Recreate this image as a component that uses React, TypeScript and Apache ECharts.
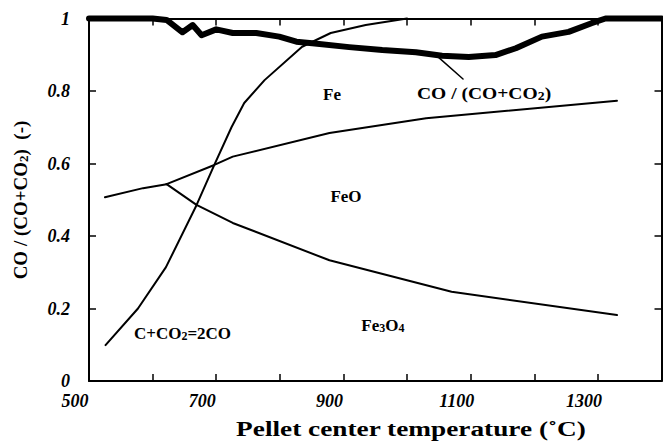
import React, { useEffect, useRef } from 'react';
import * as echarts from 'echarts';

// Axis ranges
const X_MIN = 500;
const X_MAX = 1400;
const X_STEP = 100;
const Y_MIN = 0;
const Y_MAX = 1;
const Y_STEP = 0.2;
const X_LABELS = [500, 700, 900, 1100, 1300];

// Measured gas ratio CO/(CO+CO2) (thick line)
const gasT = [500, 600, 622, 647, 663, 677, 700, 726, 763, 799, 826, 851, 909, 961, 1014, 1055, 1097, 1139, 1171, 1212, 1254, 1290, 1312, 1400];
const gasRatio = [1.0, 1.0, 0.996, 0.962, 0.982, 0.954, 0.97, 0.96, 0.96, 0.95, 0.936, 0.932, 0.921, 0.913, 0.907, 0.897, 0.894, 0.899, 0.918, 0.95, 0.963, 0.987, 1.0, 1.0];

// Boudouard equilibrium C+CO2=2CO
const boudT = [526, 577, 621, 669, 697, 724, 744, 776, 835, 880, 935, 1000];
const boudRatio = [0.099, 0.2, 0.314, 0.485, 0.596, 0.7, 0.767, 0.83, 0.922, 0.96, 0.982, 1.0];

// Fe3O4 / Fe boundary (below triple point)
const magFeT = [525, 585, 622];
const magFeRatio = [0.507, 0.532, 0.543];

// Fe / FeO boundary
const feFeoT = [622, 697, 726, 878, 1030, 1330];
const feFeoRatio = [0.543, 0.596, 0.619, 0.684, 0.725, 0.773];

// FeO / Fe3O4 boundary
const feoMagT = [622, 669, 726, 878, 1070, 1330];
const feoMagRatio = [0.543, 0.486, 0.436, 0.333, 0.246, 0.182];

// Leader line to the CO/(CO+CO2) label
const leaderT = [1050, 1088];
const leaderRatio = [0.892, 0.833];

// Annotations (data coordinates)
const labelTexts = ['Fe', 'CO / (CO+CO{s|2})', 'FeO', 'Fe{s|3}O{s|4}', 'C+CO{s|2}=2CO'];
const labelT = [882, 1121, 904, 962, 647];
const labelRatio = [0.789, 0.794, 0.508, 0.152, 0.13];

const X_TITLE = 'Pellet center temperature (˚C)';
const Y_TITLE = 'CO / (CO+CO{s|2})  (-)';

const FONT = "'Liberation Serif', 'Times New Roman', Times, serif";
const labelStretch = [1, 1.15, 1, 1, 1];

const pair = (xs: number[], ys: number[]) => xs.map((x, i) => [x, ys[i]]);

export default function App() {
  const ref = useRef<HTMLDivElement>(null);

  useEffect(() => {
    if (!ref.current) return;
    const chart = echarts.init(ref.current, null, { renderer: 'svg' });

    const lineSeries = (name: string, xs: number[], ys: number[], width: number) => ({
      type: 'line',
      name,
      data: pair(xs, ys),
      symbol: 'none',
      clip: false,
      silent: true,
      xAxisIndex: 0,
      yAxisIndex: 0,
      lineStyle: { color: '#000', width, join: 'round', cap: 'round' },
      z: 3,
    });

    const tickLabelStyle = {
      fontFamily: FONT,
      fontStyle: 'italic',
      fontWeight: 'bold',
      fontSize: 18,
      color: '#000',
    };
    const axisLine = { show: true, onZero: false, lineStyle: { color: '#000', width: 2 } };
    const axisTick = { show: true, inside: true, length: 7, lineStyle: { color: '#000', width: 1.5 } };

    const xAxisBase = {
      type: 'value',
      min: X_MIN,
      max: X_MAX,
      interval: X_STEP,
      axisLine,
      axisTick,
      splitLine: { show: false },
    };
    const yAxisBase = {
      type: 'value',
      min: Y_MIN,
      max: Y_MAX,
      interval: Y_STEP,
      axisLine,
      axisTick,
      splitLine: { show: false },
    };

    chart.setOption({
      animation: false,
      backgroundColor: '#fff',
      grid: { left: 89, right: 1.5, top: 18.5, bottom: 63, containLabel: false, outerBoundsMode: 'none' },
      xAxis: [
        {
          ...xAxisBase,
          position: 'bottom',
          axisLabel: {
            ...tickLabelStyle,
            showMinLabel: true,
            showMaxLabel: true,
            margin: 11,
            padding: [0, 28, 0, 0],
            formatter: (v: number) => (X_LABELS.indexOf(Math.round(v)) >= 0 ? String(Math.round(v)) : ''),
          },
        },
        { ...xAxisBase, position: 'top', axisLabel: { show: false } },
      ],
      yAxis: [
        {
          ...yAxisBase,
          position: 'left',
          axisLabel: {
            ...tickLabelStyle,
            margin: 19,
            align: 'right',
            showMinLabel: true,
            showMaxLabel: true,
            formatter: (v: number) => {
              if (Math.abs(v) < 1e-9) return '0';
              if (Math.abs(v - 1) < 1e-9) return '1';
              return v.toFixed(1);
            },
          },
        },
        { ...yAxisBase, position: 'right', axisLabel: { show: false } },
      ],
      series: [
        lineSeries('CO/(CO+CO2)', gasT, gasRatio, 6),
        lineSeries('C+CO2=2CO', boudT, boudRatio, 2),
        lineSeries('Fe3O4/Fe', magFeT, magFeRatio, 2),
        lineSeries('Fe/FeO', feFeoT, feFeoRatio, 2),
        lineSeries('FeO/Fe3O4', feoMagT, feoMagRatio, 2),
        lineSeries('leader', leaderT, leaderRatio, 1.5),
      ],
    });

    const sub = (size: number) => ({
      s: { fontSize: size, fontFamily: FONT, fontWeight: 'bold', fill: '#000', lineHeight: size, verticalAlign: 'bottom' },
    });

    const annotations = labelTexts.map((text, i) => {
      const p = chart.convertToPixel({ xAxisIndex: 0, yAxisIndex: 0 }, [labelT[i], labelRatio[i]]) as number[];
      return {
        type: 'text',
        x: p[0],
        y: p[1],
        scaleX: labelStretch[i],
        silent: true,
        z: 10,
        style: {
          text,
          rich: sub(12),
          fill: '#000',
          fontFamily: FONT,
          fontWeight: 'bold',
          fontSize: 17,
          align: 'center',
          verticalAlign: 'middle',
        },
      };
    });

    chart.setOption({
      graphic: [
        ...annotations,
        {
          type: 'text',
          x: 411,
          y: 429,
          scaleX: 1.3,
          silent: true,
          style: {
            text: X_TITLE,
            fill: '#000',
            fontFamily: FONT,
            fontWeight: 'bold',
            fontSize: 21,
            align: 'center',
            verticalAlign: 'middle',
          },
        },
        {
          type: 'text',
          x: 20,
          y: 200,
          rotation: Math.PI / 2,
          silent: true,
          style: {
            text: Y_TITLE,
            rich: sub(13),
            fill: '#000',
            fontFamily: FONT,
            fontWeight: 'bold',
            fontSize: 19,
            align: 'center',
            verticalAlign: 'middle',
          },
        },
      ],
    });

    return () => chart.dispose();
  }, []);

  return (
    <div
      ref={ref}
      style={{ position: 'fixed', left: 0, top: 0, width: 663, height: 444, background: '#fff' }}
    />
  );
}
